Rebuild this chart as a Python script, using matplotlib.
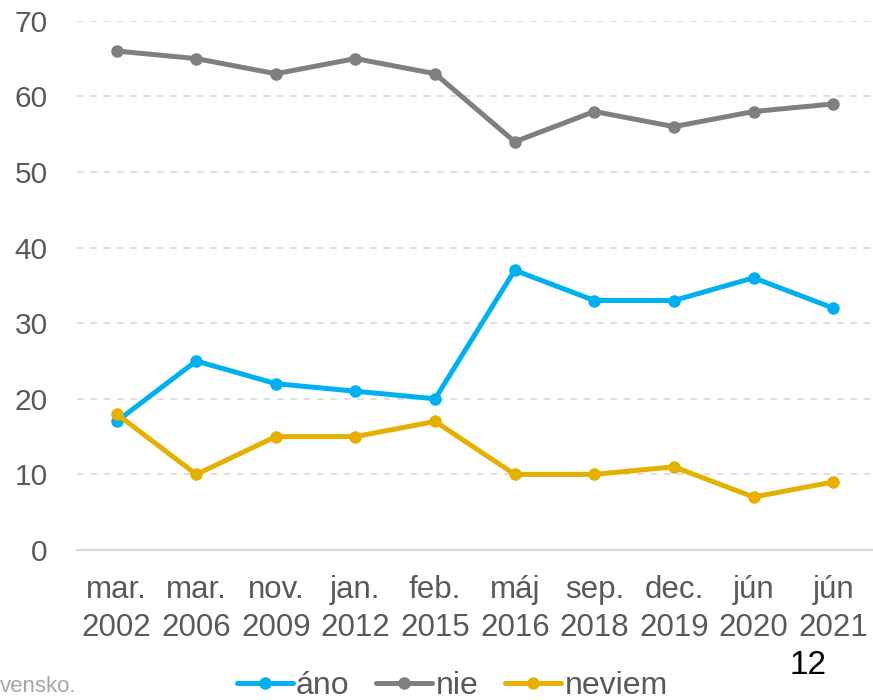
import matplotlib.pyplot as plt

plt.rcParams['font.family'] = ['Liberation Sans', 'DejaVu Sans']

dates = ['mar.\n2002', 'mar.\n2006', 'nov.\n2009', 'jan.\n2012', 'feb.\n2015',
         'máj\n2016', 'sep.\n2018', 'dec.\n2019', 'jún\n2020', 'jún\n2021']
ano = [17, 25, 22, 21, 20, 37, 33, 33, 36, 32]
nie = [66, 65, 63, 65, 63, 54, 58, 56, 58, 59]
neviem = [18, 10, 15, 15, 17, 10, 10, 11, 7, 9]

series = [('áno', ano, '#00B0F0'), ('nie', nie, '#7F7F7F'), ('neviem', neviem, '#E6B000')]

fig = plt.figure(figsize=(8.73, 7), dpi=100)
ax = fig.add_axes([0.088, 0.2143, 0.912, 0.756])

x = list(range(len(dates)))
for name, vals, col in series:
    ax.plot(x, vals, color=col, lw=3.6, marker='o', ms=8, label=name,
            solid_capstyle='round', solid_joinstyle='round')

ax.set_xlim(-0.5, len(dates) - 0.5)
ax.set_ylim(0, 70)
ax.set_yticks(range(0, 71, 10))
ax.set_xticks(x)
ax.set_xticklabels(dates, linespacing=1.35)
ax.grid(axis='y', color='#D9D9D9', ls=(0, (4, 4)), lw=1.2)
ax.set_axisbelow(True)
for s in ['top', 'right', 'left']:
    ax.spines[s].set_visible(False)
ax.spines['bottom'].set_color('#D9D9D9')
ax.spines['bottom'].set_linewidth(1.5)
ax.tick_params(axis='y', length=0, pad=21, labelsize=21.5, labelcolor='#595959')
ax.tick_params(axis='x', length=0, pad=18, labelsize=22.5, labelcolor='#595959')

leg = fig.legend(loc='center', bbox_to_anchor=(0.518, 0.02), ncol=3, frameon=False,
                 fontsize=23, handlelength=1.75, handletextpad=0.1, columnspacing=0.85,
                 labelcolor='#595959')

narrow = ['Liberation Sans Narrow', 'Liberation Sans']
fig.text(0.0, 0.02, 'vensko.', fontsize=16, color='#A6A6A6', va='center', ha='left',
         family=narrow)
fig.text(0.926, 0.05, '12', fontsize=24, color='black', va='center', ha='center')

fig.savefig('out.png', dpi=100)
